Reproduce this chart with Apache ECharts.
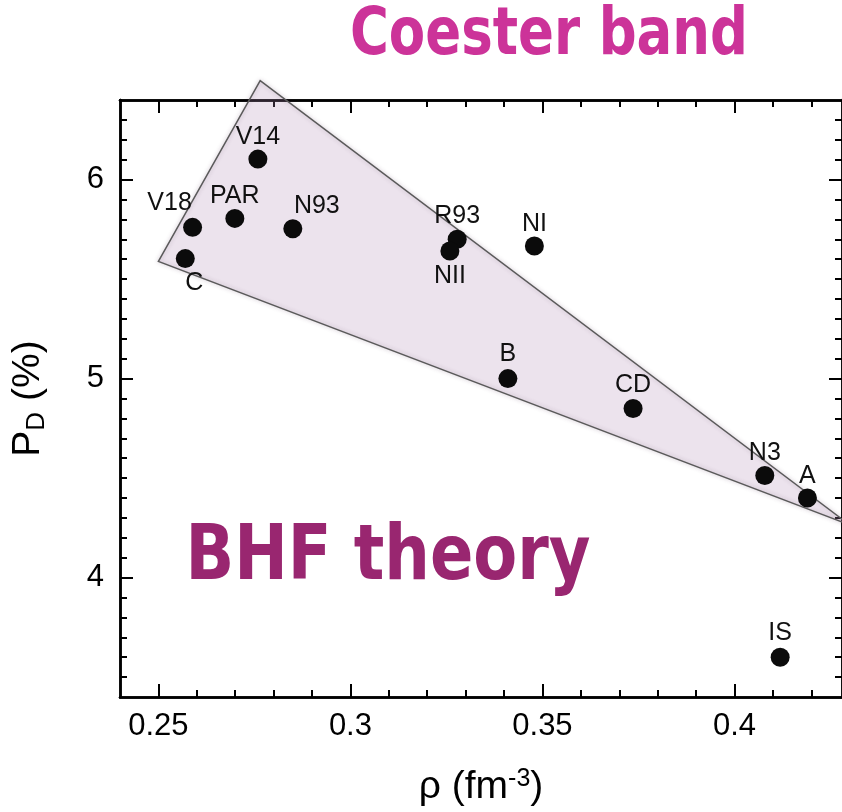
<!DOCTYPE html>
<html><head><meta charset="utf-8">
<script src="https://cdn.jsdelivr.net/npm/echarts@6/dist/echarts.min.js"></script>
<style>html,body{margin:0;padding:0;background:#fff}#c{width:842px;height:812px}</style>
</head><body><div id="c"></div>
<script>
// ---- data ----
const models = ['V14','V18','PAR','N93','C','R93','NII','NI','B','CD','N3','A','IS'];
const rho    = [0.2759,0.2589,0.2699,0.2850,0.2570,0.3278,0.3259,0.3479,0.3410,0.3736,0.4079,0.4190,0.4119];
const pd     = [6.103,5.760,5.805,5.753,5.603,5.700,5.641,5.666,5.000,4.850,4.513,4.400,3.600];
const bandRho = [0.2765,0.2500,0.4300];
const bandPd  = [6.497,5.589,4.265];
const xMajorTicks = [0.25,0.3,0.35,0.4];
const xMinorTicks = [0.26,0.27,0.28,0.29,0.31,0.32,0.33,0.34,0.36,0.37,0.38,0.39,0.41,0.42];
const yMajorTicks = [4,5,6];
const yMinorTicks = [3.5,3.6,3.7,3.8,3.9,4.1,4.2,4.3,4.4,4.5,4.6,4.7,4.8,4.9,5.1,5.2,5.3,5.4,5.5,5.6,5.7,5.8,5.9,6.1,6.2,6.3];
const xLabelText = 'ρ (fm';
const yLabelText = 'P';
const titleTop = 'Coester band';
const titleBottom = 'BHF theory';

// ---- styling (label offsets relative to marker centre) ----
const labelOffset = {
  V14:[0,-22], V18:[-23,-24], PAR:[0,-22], N93:[24,-23], C:[9,25], R93:[0,-23],
  NII:[0,25], NI:[0,-22], B:[0,-24], CD:[0,-23], N3:[0,-22], A:[0,-22], IS:[0,-24]
};
const FONT = '"Liberation Sans", Arial, Helvetica, sans-serif';
const XMIN = 0.24, XMAX = 0.428, YMIN = 3.4, YMAX = 6.4;

function xAx(pos, ticks, len, withLabels, extra) {
  return Object.assign({
    type:'value', position:pos, min:XMIN, max:XMAX,
    axisLine:{show:true, onZero:false, lineStyle:{color:'#000', width:2.5}},
    axisTick:{show:true, inside:true, length:len, customValues:ticks, lineStyle:{color:'#000', width:2}},
    axisLabel: withLabels ? {show:true, customValues:xMajorTicks, color:'#000', fontFamily:FONT, fontSize:31, margin:14,
      formatter:v=>String(+v.toFixed(2))} : {show:false},
    splitLine:{show:false}
  }, extra||{});
}
function yAx(pos, ticks, len, withLabels, extra) {
  return Object.assign({
    type:'value', position:pos, min:YMIN, max:YMAX,
    axisLine:{show:true, onZero:false, lineStyle:{color:'#000', width:2.5}},
    axisTick:{show:true, inside:true, length:len, customValues:ticks, lineStyle:{color:'#000', width:2}},
    axisLabel: withLabels ? {show:true, customValues:yMajorTicks, color:'#000', fontFamily:FONT, fontSize:31, margin:16,
      formatter:v=>String(+v.toFixed(1))} : {show:false},
    splitLine:{show:false}
  }, extra||{});
}

const scatterData = models.map((m,i)=>({
  name:m, value:[rho[i], pd[i]],
  label:{show:true, formatter:m, position:'inside', offset:labelOffset[m],
    color:'#111', fontFamily:FONT, fontSize:25}
}));
const bandData = [bandRho.map((r,i)=>[r, bandPd[i]])];

const option = {
  backgroundColor:'#fff',
  animation:false,
  grid:{left:120, right:0, top:100, bottom:112, containLabel:false},
  xAxis:[
    xAx('bottom', xMajorTicks, 13, true, {
      name:'{a|' + xLabelText + '}{s|-3}{a|)}', nameLocation:'middle', nameGap:70,
      nameTextStyle:{rich:{a:{fontFamily:FONT, fontSize:39, color:'#000'}, s:{fontFamily:FONT, fontSize:25, color:'#000', verticalAlign:'top', padding:[0,0,16,0]}}}
    }),
    xAx('bottom', xMinorTicks, 7, false),
    xAx('top', xMajorTicks, 13, false),
    xAx('top', xMinorTicks, 7, false)
  ],
  yAxis:[
    yAx('left', yMajorTicks, 13, true, {
      name:'{a|' + yLabelText + '}{s|D}{a| (%)}', nameLocation:'middle', nameGap:70, nameRotate:90,
      nameTextStyle:{rich:{a:{fontFamily:FONT, fontSize:39, color:'#000'}, s:{fontFamily:FONT, fontSize:26, color:'#000', verticalAlign:'bottom', padding:[18,0,0,0]}}}
    }),
    yAx('left', yMinorTicks, 7, false),
    yAx('right', yMajorTicks, 13, false),
    yAx('right', yMinorTicks, 7, false)
  ],
  series:[
    {
      type:'custom', xAxisIndex:0, yAxisIndex:0, clip:false, z:5,
      data:bandData,
      renderItem:function(params, api){
        const pts = bandData[params.dataIndex].map(p=>api.coord(p));
        return {type:'polygon', shape:{points:pts},
          style:{fill:'rgba(200,168,206,0.2)', stroke:'#5a5a5a', lineWidth:1.5,
            shadowBlur:4, shadowColor:'rgba(80,40,80,0.3)'}};
      }
    },
    {
      type:'scatter', xAxisIndex:0, yAxisIndex:0, z:10,
      symbol:'circle', symbolSize:19,
      itemStyle:{color:'#0b0b0b', opacity:1},
      data:scatterData
    }
  ],
  graphic:[
    {type:'text', x:549, y:37, z:100, scaleY:1.25,
      style:{text:titleTop, fill:'#cc3399', font:'bold 53px "Comic Sans MS", "DejaVu Sans", sans-serif', textAlign:'center', textVerticalAlign:'middle'}},
    {type:'text', x:388, y:559, z:100, scaleY:1.2,
      style:{text:titleBottom, fill:'#992670', font:'bold 64px "Comic Sans MS", "DejaVu Sans", sans-serif', textAlign:'center', textVerticalAlign:'middle'}}
  ]
};
const chart = echarts.init(document.getElementById('c'), null, {renderer:'canvas'});
chart.setOption(option);
</script>
</body></html>
